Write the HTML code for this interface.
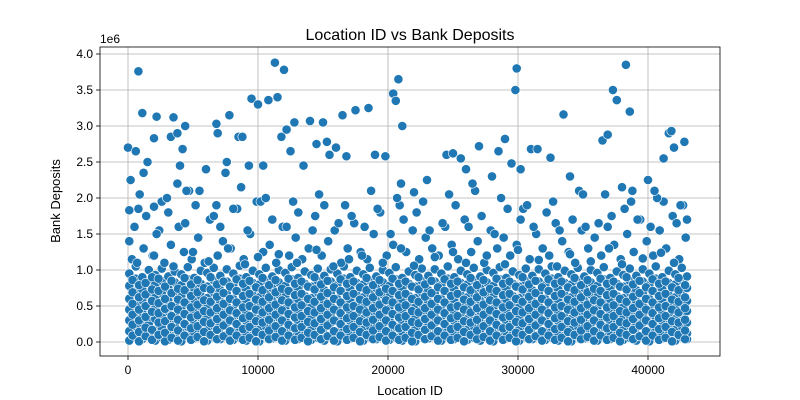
<!DOCTYPE html>
<html><head><meta charset="utf-8">
<style>
html,body{margin:0;padding:0;background:#fff;}
svg{display:block;font-family:"Liberation Sans","DejaVu Sans",sans-serif;}
</style></head>
<body>
<svg id="chart" width="800" height="400" viewBox="0 0 800 400" xmlns="http://www.w3.org/2000/svg">
<rect x="0" y="0" width="800" height="400" fill="#fff"/>
<text x="410" y="40" text-anchor="middle" font-size="16" fill="#000">Location ID vs Bank Deposits</text>
<text x="410" y="395" text-anchor="middle" font-size="13" fill="#000">Location ID</text>
<text transform="translate(60,201) rotate(-90)" text-anchor="middle" font-size="13" fill="#000">Bank Deposits</text>
<text x="100" y="43" font-size="12" fill="#000">1e6</text>
<g id="grid"></g>
<g id="points"></g>
<g id="axes"></g>
</svg>
<script>
// x in thousands of Location ID, y in millions of deposits
const xTicks = [0, 10000, 20000, 30000, 40000];
const xTickLabels = ["0", "10000", "20000", "30000", "40000"];
const yTicks = [0, 0.5, 1.0, 1.5, 2.0, 2.5, 3.0, 3.5, 4.0];
const yTickLabels = ["0.0", "0.5", "1.0", "1.5", "2.0", "2.5", "3.0", "3.5", "4.0"];

const bandColumns = [
[0.1,0.02,0.15,0.3,0.45,0.6,0.78,0.95],[0.6,0.07,0.22,0.38,0.52,0.7,0.88,1.05],[1.1,0.04,0.12,0.27,0.41,0.58,0.73,0.9],
[1.6,0.1,0.25,0.35,0.5,0.65,0.82,1.0],[2.1,0.02,0.17,0.32,0.47,0.62,0.8,0.93],[2.6,0.06,0.2,0.36,0.55,0.68,0.85,1.02],
[3.1,0.03,0.14,0.29,0.43,0.57,0.75,0.91],[3.6,0.09,0.24,0.37,0.51,0.66,0.83,0.98],[4.1,0.01,0.16,0.31,0.46,0.63,0.79,0.94],
[4.6,0.08,0.21,0.39,0.53,0.71,0.87,1.04],[5.1,0.05,0.13,0.28,0.42,0.59,0.74,0.89],[5.6,0.11,0.26,0.34,0.49,0.64,0.81,0.99],
[6.1,0.02,0.18,0.33,0.48,0.61,0.77,0.96],[6.6,0.07,0.23,0.4,0.54,0.69,0.86,1.03],[7.1,0.04,0.11,0.26,0.44,0.56,0.72,0.92],
[7.6,0.1,0.27,0.36,0.5,0.67,0.84,1.01],[8.1,0.03,0.15,0.3,0.45,0.6,0.79,0.95],[8.6,0.06,0.2,0.37,0.55,0.7,0.88,1.06],
[9.1,0.02,0.13,0.29,0.41,0.58,0.73,0.9],[9.6,0.09,0.24,0.35,0.52,0.65,0.82,0.99],[10.1,0.01,0.17,0.32,0.47,0.62,0.8,0.94],
[10.6,0.08,0.22,0.38,0.53,0.68,0.86,1.03],[11.1,0.05,0.12,0.27,0.43,0.57,0.75,0.91],[11.6,0.11,0.25,0.34,0.49,0.66,0.83,1.0],
[12.1,0.02,0.16,0.31,0.46,0.63,0.78,0.96],[12.6,0.07,0.21,0.39,0.54,0.71,0.87,1.04],[13.1,0.04,0.14,0.28,0.42,0.59,0.74,0.89],
[13.6,0.1,0.26,0.36,0.51,0.64,0.81,0.98],[14.1,0.03,0.18,0.33,0.48,0.61,0.77,0.93],[14.6,0.06,0.23,0.4,0.55,0.69,0.85,1.02],
[15.1,0.02,0.11,0.26,0.44,0.56,0.72,0.92],[15.6,0.09,0.27,0.37,0.5,0.67,0.84,1.01],[16.1,0.01,0.15,0.3,0.45,0.6,0.79,0.95],
[16.6,0.08,0.2,0.35,0.53,0.7,0.88,1.05],[17.1,0.05,0.13,0.29,0.41,0.58,0.73,0.9],[17.6,0.11,0.24,0.38,0.52,0.65,0.82,0.99],
[18.1,0.02,0.17,0.32,0.47,0.62,0.8,0.94],[18.6,0.07,0.22,0.36,0.54,0.68,0.86,1.03],[19.1,0.04,0.12,0.27,0.43,0.57,0.75,0.91],
[19.6,0.1,0.25,0.34,0.49,0.66,0.83,1.0],[20.1,0.03,0.16,0.31,0.46,0.63,0.78,0.96],[20.6,0.06,0.21,0.39,0.55,0.71,0.87,1.04],
[21.1,0.02,0.14,0.28,0.42,0.59,0.74,0.89],[21.6,0.09,0.26,0.37,0.51,0.64,0.81,0.98],[22.1,0.01,0.18,0.33,0.48,0.61,0.77,0.93],
[22.6,0.08,0.23,0.4,0.53,0.69,0.85,1.02],[23.1,0.05,0.11,0.26,0.44,0.56,0.72,0.92],[23.6,0.11,0.27,0.35,0.5,0.67,0.84,1.01],
[24.1,0.02,0.15,0.3,0.45,0.6,0.79,0.95],[24.6,0.07,0.2,0.38,0.54,0.7,0.88,1.05],[25.1,0.04,0.13,0.29,0.41,0.58,0.73,0.9],
[25.6,0.1,0.24,0.36,0.52,0.65,0.82,0.99],[26.1,0.03,0.17,0.32,0.47,0.62,0.8,0.94],[26.6,0.06,0.22,0.34,0.55,0.68,0.86,1.03],
[27.1,0.02,0.12,0.27,0.43,0.57,0.75,0.91],[27.6,0.09,0.25,0.39,0.49,0.66,0.83,1.0],[28.1,0.01,0.16,0.31,0.46,0.63,0.78,0.96],
[28.6,0.08,0.21,0.37,0.53,0.71,0.87,1.04],[29.1,0.05,0.14,0.28,0.42,0.59,0.74,0.89],[29.6,0.11,0.26,0.35,0.51,0.64,0.81,0.98],
[30.1,0.02,0.18,0.33,0.48,0.61,0.77,0.93],[30.6,0.07,0.23,0.4,0.54,0.69,0.85,1.02],[31.1,0.04,0.11,0.26,0.44,0.56,0.72,0.92],
[31.6,0.1,0.27,0.36,0.5,0.67,0.84,1.01],[32.1,0.03,0.15,0.3,0.45,0.6,0.79,0.95],[32.6,0.06,0.2,0.38,0.55,0.7,0.88,1.05],
[33.1,0.02,0.13,0.29,0.41,0.58,0.73,0.9],[33.6,0.09,0.24,0.34,0.52,0.65,0.82,0.99],[34.1,0.01,0.17,0.32,0.47,0.62,0.8,0.94],
[34.6,0.08,0.22,0.39,0.53,0.68,0.86,1.03],[35.1,0.05,0.12,0.27,0.43,0.57,0.75,0.91],[35.6,0.11,0.25,0.37,0.49,0.66,0.83,1.0],
[36.1,0.02,0.16,0.31,0.46,0.63,0.78,0.96],[36.6,0.07,0.21,0.35,0.54,0.71,0.87,1.04],[37.1,0.04,0.14,0.28,0.42,0.59,0.74,0.89],
[37.6,0.1,0.26,0.4,0.51,0.64,0.81,0.98],[38.1,0.03,0.18,0.33,0.48,0.61,0.77,0.93],[38.6,0.06,0.23,0.36,0.55,0.69,0.85,1.02],
[39.1,0.02,0.11,0.26,0.44,0.56,0.72,0.92],[39.6,0.09,0.27,0.38,0.5,0.67,0.84,1.01],[40.1,0.01,0.15,0.3,0.45,0.6,0.79,0.95],
[40.6,0.08,0.2,0.34,0.53,0.7,0.88,1.05],[41.1,0.05,0.13,0.29,0.41,0.58,0.73,0.9],[41.6,0.11,0.24,0.37,0.52,0.65,0.82,0.99],
[42.1,0.02,0.17,0.32,0.47,0.62,0.8,0.94],[42.6,0.07,0.22,0.39,0.54,0.68,0.86,1.03],[43.0,0.04,0.12,0.27,0.43,0.57,0.75,0.91]
];

const fillColumns = [
[0.35,0.09,0.24,0.38,0.53,0.69,0.86],[0.85,0.01,0.14,0.3,0.45,0.62,0.79],[1.35,0.08,0.2,0.35,0.5,0.66,0.82],
[1.85,0.03,0.17,0.42,0.57,0.73,0.9],[2.35,0.1,0.27,0.4,0.54,0.71,0.88],[2.85,0.01,0.13,0.29,0.46,0.6,0.77],
[3.35,0.06,0.21,0.36,0.5,0.68,0.85],[3.85,0.02,0.16,0.31,0.45,0.59,0.74],[4.35,0.09,0.25,0.39,0.55,0.72,0.89],
[4.85,0.03,0.19,0.34,0.48,0.64,0.8],[5.35,0.07,0.22,0.37,0.52,0.69,0.86],[5.85,0.01,0.14,0.28,0.43,0.58,0.75],
[6.35,0.1,0.26,0.41,0.56,0.73,0.9],[6.85,0.04,0.17,0.32,0.47,0.63,0.8],[7.35,0.08,0.23,0.38,0.53,0.68,0.84],
[7.85,0.02,0.15,0.3,0.44,0.6,0.77],[8.35,0.09,0.25,0.4,0.55,0.71,0.87],[8.85,0.03,0.18,0.33,0.48,0.64,0.81],
[9.35,0.06,0.21,0.36,0.5,0.67,0.85],[9.85,0.01,0.14,0.29,0.45,0.59,0.76],[10.35,0.1,0.27,0.41,0.56,0.72,0.89],
[10.85,0.04,0.16,0.31,0.47,0.62,0.79],[11.35,0.07,0.22,0.38,0.52,0.69,0.86],[11.85,0.02,0.15,0.3,0.44,0.58,0.74],
[12.35,0.09,0.24,0.39,0.55,0.71,0.88],[12.85,0.03,0.19,0.34,0.48,0.65,0.81],[13.35,0.06,0.21,0.36,0.51,0.67,0.84],
[13.85,0.01,0.13,0.28,0.43,0.6,0.77],[14.35,0.1,0.26,0.41,0.56,0.73,0.9],[14.85,0.04,0.17,0.32,0.47,0.63,0.8],
[15.35,0.08,0.23,0.38,0.53,0.68,0.85],[15.85,0.02,0.15,0.3,0.45,0.6,0.76],[16.35,0.09,0.25,0.4,0.55,0.71,0.87],
[16.85,0.03,0.18,0.33,0.48,0.64,0.81],[17.35,0.06,0.21,0.36,0.5,0.67,0.84],[17.85,0.01,0.14,0.29,0.45,0.59,0.76],
[18.35,0.1,0.27,0.41,0.56,0.72,0.89],[18.85,0.04,0.16,0.31,0.47,0.62,0.79],[19.35,0.07,0.22,0.38,0.52,0.69,0.86],
[19.85,0.02,0.15,0.3,0.44,0.58,0.74],[20.35,0.09,0.24,0.39,0.55,0.71,0.88],[20.85,0.03,0.19,0.34,0.48,0.65,0.81],
[21.35,0.06,0.21,0.36,0.51,0.67,0.84],[21.85,0.01,0.13,0.28,0.43,0.6,0.77],[22.35,0.1,0.26,0.41,0.56,0.73,0.9],
[22.85,0.04,0.17,0.32,0.47,0.63,0.8],[23.35,0.08,0.23,0.38,0.53,0.68,0.85],[23.85,0.02,0.15,0.3,0.45,0.6,0.76],
[24.35,0.09,0.25,0.4,0.55,0.71,0.87],[24.85,0.03,0.18,0.33,0.48,0.64,0.81],[25.35,0.06,0.21,0.36,0.5,0.67,0.84],
[25.85,0.01,0.14,0.29,0.45,0.59,0.76],[26.35,0.1,0.27,0.41,0.56,0.72,0.89],[26.85,0.04,0.16,0.31,0.47,0.62,0.79],
[27.35,0.07,0.22,0.38,0.52,0.69,0.86],[27.85,0.02,0.15,0.3,0.44,0.58,0.74],[28.35,0.09,0.24,0.39,0.55,0.71,0.88],
[28.85,0.03,0.19,0.34,0.48,0.65,0.81],[29.35,0.06,0.21,0.36,0.51,0.67,0.84],[29.85,0.01,0.13,0.28,0.43,0.6,0.77],
[30.35,0.1,0.26,0.41,0.56,0.73,0.9],[30.85,0.04,0.17,0.32,0.47,0.63,0.8],[31.35,0.08,0.23,0.38,0.53,0.68,0.85],
[31.85,0.02,0.15,0.3,0.45,0.6,0.76],[32.35,0.09,0.25,0.4,0.55,0.71,0.87],[32.85,0.03,0.18,0.33,0.48,0.64,0.81],
[33.35,0.06,0.21,0.36,0.5,0.67,0.84],[33.85,0.01,0.14,0.29,0.45,0.59,0.76],[34.35,0.1,0.27,0.41,0.56,0.72,0.89],
[34.85,0.04,0.16,0.31,0.47,0.62,0.79],[35.35,0.07,0.22,0.38,0.52,0.69,0.86],[35.85,0.02,0.15,0.3,0.44,0.58,0.74],
[36.35,0.09,0.24,0.39,0.55,0.71,0.88],[36.85,0.03,0.19,0.34,0.48,0.65,0.81],[37.35,0.06,0.21,0.36,0.51,0.67,0.84],
[37.85,0.01,0.13,0.28,0.43,0.6,0.77],[38.35,0.1,0.26,0.41,0.56,0.73,0.9],[38.85,0.04,0.17,0.32,0.47,0.63,0.8],
[39.35,0.08,0.23,0.38,0.53,0.68,0.85],[39.85,0.02,0.15,0.3,0.45,0.6,0.76],[40.35,0.09,0.25,0.4,0.55,0.71,0.87],
[40.85,0.03,0.18,0.33,0.48,0.64,0.81],[41.35,0.06,0.21,0.36,0.5,0.67,0.84],[41.85,0.01,0.14,0.29,0.45,0.59,0.76],
[42.35,0.1,0.27,0.41,0.56,0.72,0.89],[42.85,0.04,0.16,0.31,0.47,0.62,0.79]
];

const midX = [0.1,0.3,0.8,1.2,1.9,2.4,2.8,3.3,3.9,4.3,4.9,5.4,5.9,6.3,6.9,7.3,7.9,8.4,8.9,9.4,9.9,10.4,10.9,11.4,11.9,12.4,12.9,13.4,13.9,14.4,14.9,15.4,15.9,16.4,16.9,17.4,17.9,18.4,18.9,19.4,19.9,20.4,20.9,21.4,21.9,22.4,22.9,23.4,23.9,24.4,24.9,25.4,25.9,26.4,26.9,27.4,27.9,28.4,28.9,29.4,29.9,30.4,30.9,31.4,31.9,32.4,32.9,33.4,33.9,34.4,34.9,35.4,35.9,36.4,36.9,37.4,37.9,38.4,38.9,39.4,39.9,40.4,40.9,41.4,41.9,42.4,42.9,
0.5,1.4,2.2,3.1,4.4,5.2,6.6,7.1,8.1,9.2,10.2,11.1,12.2,13.1,14.2,15.1,16.2,17.2,18.2,19.2,20.2,21.2,22.2,23.2,24.2,25.2,26.2,27.2,28.2,29.2,30.2,31.2,32.2,33.2,34.2,35.2,36.2,37.2,38.2,39.2,40.2,41.2,42.2,
0.9,2.6,4.7,6.8,8.7,10.6,12.7,14.7,16.7,18.7,20.7,22.7,24.7,26.7,28.7,30.7,32.7,34.7,36.7,38.7,40.7,42.7,
0.7,2.0,3.5,5.0,6.2,7.7,9.0,10.0,11.6,13.0,14.5,15.8,17.0,18.0,19.6,21.0,22.0,23.6,25.0,26.0,27.6,29.0,30.0,31.6,33.0,34.0,35.6,37.0,38.0,39.6,41.0,42.0];
const midY = [1.4,1.15,1.85,1.3,1.2,1.55,1.1,1.35,1.6,1.25,1.15,1.45,1.1,1.7,1.2,1.4,1.3,1.85,1.15,1.5,1.95,1.25,1.35,1.1,1.6,1.2,1.45,1.15,1.3,1.75,1.2,1.4,1.55,1.1,1.3,1.65,1.25,1.15,1.5,1.8,1.2,1.35,1.9,1.25,1.55,1.15,1.45,1.3,1.2,1.6,1.35,1.15,1.7,1.25,1.4,1.1,1.55,1.3,1.45,1.2,1.35,1.85,1.15,1.5,1.3,1.2,1.65,1.4,1.25,1.1,1.55,1.3,1.45,1.2,1.6,1.35,1.15,1.5,1.25,1.7,1.4,1.2,1.55,1.3,1.75,1.15,1.45,
1.6,1.75,1.5,1.8,1.65,1.9,1.75,1.6,1.85,1.55,1.95,1.7,1.6,1.8,1.55,1.9,1.65,1.75,1.6,1.85,1.5,1.7,1.8,1.55,1.65,1.9,1.6,1.75,1.5,1.85,1.7,1.6,1.8,1.55,1.7,1.6,1.65,1.75,1.85,1.7,1.6,1.95,1.65,
2.05,1.95,2.1,1.9,2.15,2.0,1.95,2.05,1.9,2.1,2.0,1.95,2.05,2.1,2.0,1.9,1.95,2.1,2.05,1.95,2.0,1.9,
1.1,1.2,1.05,1.25,1.12,1.3,1.08,1.18,1.22,1.1,1.28,1.05,1.15,1.2,1.1,1.3,1.06,1.18,1.25,1.1,1.2,1.08,1.28,1.14,1.05,1.22,1.12,1.3,1.08,1.16,1.24,1.1];

const outlierX = [0,0.2,0.1,0.8,0.6,1.2,1.1,1.5,2.0,2.2,2.0,3.0,3.3,3.5,3.8,4.0,4.2,4.4,4.5,3.8,5.5,6.0,6.8,6.9,7.5,7.8,7.6,8.5,8.8,9.3,9.5,10.0,10.4,10.8,11.3,11.5,11.8,12.0,12.2,12.5,12.8,13.5,14.0,14.5,15.0,15.3,15.5,16.0,16.5,16.8,17.5,18.5,19.0,19.8,20.4,20.6,20.8,21.1,21.0,22.0,23.0,24.5,25.0,25.6,26.0,26.5,27.0,28.0,28.5,29.0,29.5,29.8,29.9,30.2,31.0,31.5,32.5,33.5,34.0,35.0,36.5,36.9,37.3,37.6,38.3,38.6,38.0,38.8,40.0,40.5,41.2,41.6,41.8,42.0,42.8,42.5,43.0];
const outlierY = [2.7,2.25,1.83,3.76,2.65,2.35,3.18,2.5,2.83,3.13,1.88,2.0,2.85,3.12,2.9,2.45,2.68,3.0,2.1,2.2,2.1,2.4,3.03,2.9,2.35,3.15,2.5,2.85,2.85,2.45,3.38,3.3,2.45,3.36,3.88,3.4,2.85,3.78,2.95,2.65,3.05,2.45,3.07,2.75,3.05,2.78,2.6,2.7,3.15,2.58,3.22,3.25,2.6,2.58,3.45,3.35,3.65,3.0,2.2,2.08,2.25,2.6,2.62,2.55,2.4,2.2,2.72,2.3,2.65,2.82,2.48,3.5,3.8,2.4,2.68,2.68,2.56,3.16,2.3,2.05,2.8,2.88,3.5,3.36,3.85,3.2,2.15,2.1,2.25,2.1,2.55,2.9,2.93,2.7,2.78,1.9,1.7];

const NS = "http://www.w3.org/2000/svg";
const L = 100, R = 720, T = 47, B = 356;
function xScale(v){ return 128 + v * 0.013; }
function yScale(v){ return 342 - v * 72; }

const grid = document.getElementById('grid');
const axes = document.getElementById('axes');
const pts = document.getElementById('points');

xTicks.forEach((t,i)=>{
  const x = xScale(t);
  const g = document.createElementNS(NS,'line');
  
  
  g.setAttribute('x1',x);g.setAttribute('x2',x);g.setAttribute('y1',T);g.setAttribute('y2',B);
  g.setAttribute('stroke','#b0b0b0');g.setAttribute('stroke-width','0.8');
  grid.appendChild(g);
  const tk = document.createElementNS(NS,'line');
  
  
  tk.setAttribute('x1',x);tk.setAttribute('x2',x);tk.setAttribute('y1',B);tk.setAttribute('y2',B+4);
  tk.setAttribute('stroke','#000');tk.setAttribute('stroke-width','0.8');
  axes.appendChild(tk);
  const tx = document.createElementNS(NS,'text');
  
  
  tx.setAttribute('x',x);tx.setAttribute('y',B+18);tx.setAttribute('text-anchor','middle');
  tx.setAttribute('font-size','12');tx.textContent = xTickLabels[i];
  axes.appendChild(tx);
});
yTicks.forEach((t,i)=>{
  const y = yScale(t);
  const g = document.createElementNS(NS,'line');
  
  
  g.setAttribute('x1',L);g.setAttribute('x2',R);g.setAttribute('y1',y);g.setAttribute('y2',y);
  g.setAttribute('stroke','#b0b0b0');g.setAttribute('stroke-width','0.8');
  grid.appendChild(g);
  const tk = document.createElementNS(NS,'line');
  
  
  tk.setAttribute('x1',L-4);tk.setAttribute('x2',L);tk.setAttribute('y1',y);tk.setAttribute('y2',y);
  tk.setAttribute('stroke','#000');tk.setAttribute('stroke-width','0.8');
  axes.appendChild(tk);
  const tx = document.createElementNS(NS,'text');
  
  
  tx.setAttribute('x',L-7);tx.setAttribute('y',y+4);tx.setAttribute('text-anchor','end');
  tx.setAttribute('font-size','12');tx.textContent = yTickLabels[i];
  axes.appendChild(tx);
});
const frame = document.createElementNS(NS,'rect');


frame.setAttribute('x',L);frame.setAttribute('y',T);frame.setAttribute('width',R-L);frame.setAttribute('height',B-T);
frame.setAttribute('fill','none');frame.setAttribute('stroke','#000');frame.setAttribute('stroke-width','0.8');
axes.appendChild(frame);

function dot(xk, ym){
  const c = document.createElementNS(NS,'circle');
  
  
  c.setAttribute('cx', xScale(xk*1000));
  c.setAttribute('cy', yScale(ym));
  c.setAttribute('r', 4.6);
  c.setAttribute('fill','#1f77b4');
  c.setAttribute('stroke','#ffffff');
  c.setAttribute('stroke-width','0.6');
  pts.appendChild(c);
}
bandColumns.forEach(col=>{ for(let j=1;j<col.length;j++) dot(col[0], col[j]); });
fillColumns.forEach(col=>{ for(let j=1;j<col.length;j++) dot(col[0], col[j]); });
midX.forEach((x,i)=>dot(x, midY[i]));
outlierX.forEach((x,i)=>dot(x, outlierY[i]));
</script>
</body></html>
